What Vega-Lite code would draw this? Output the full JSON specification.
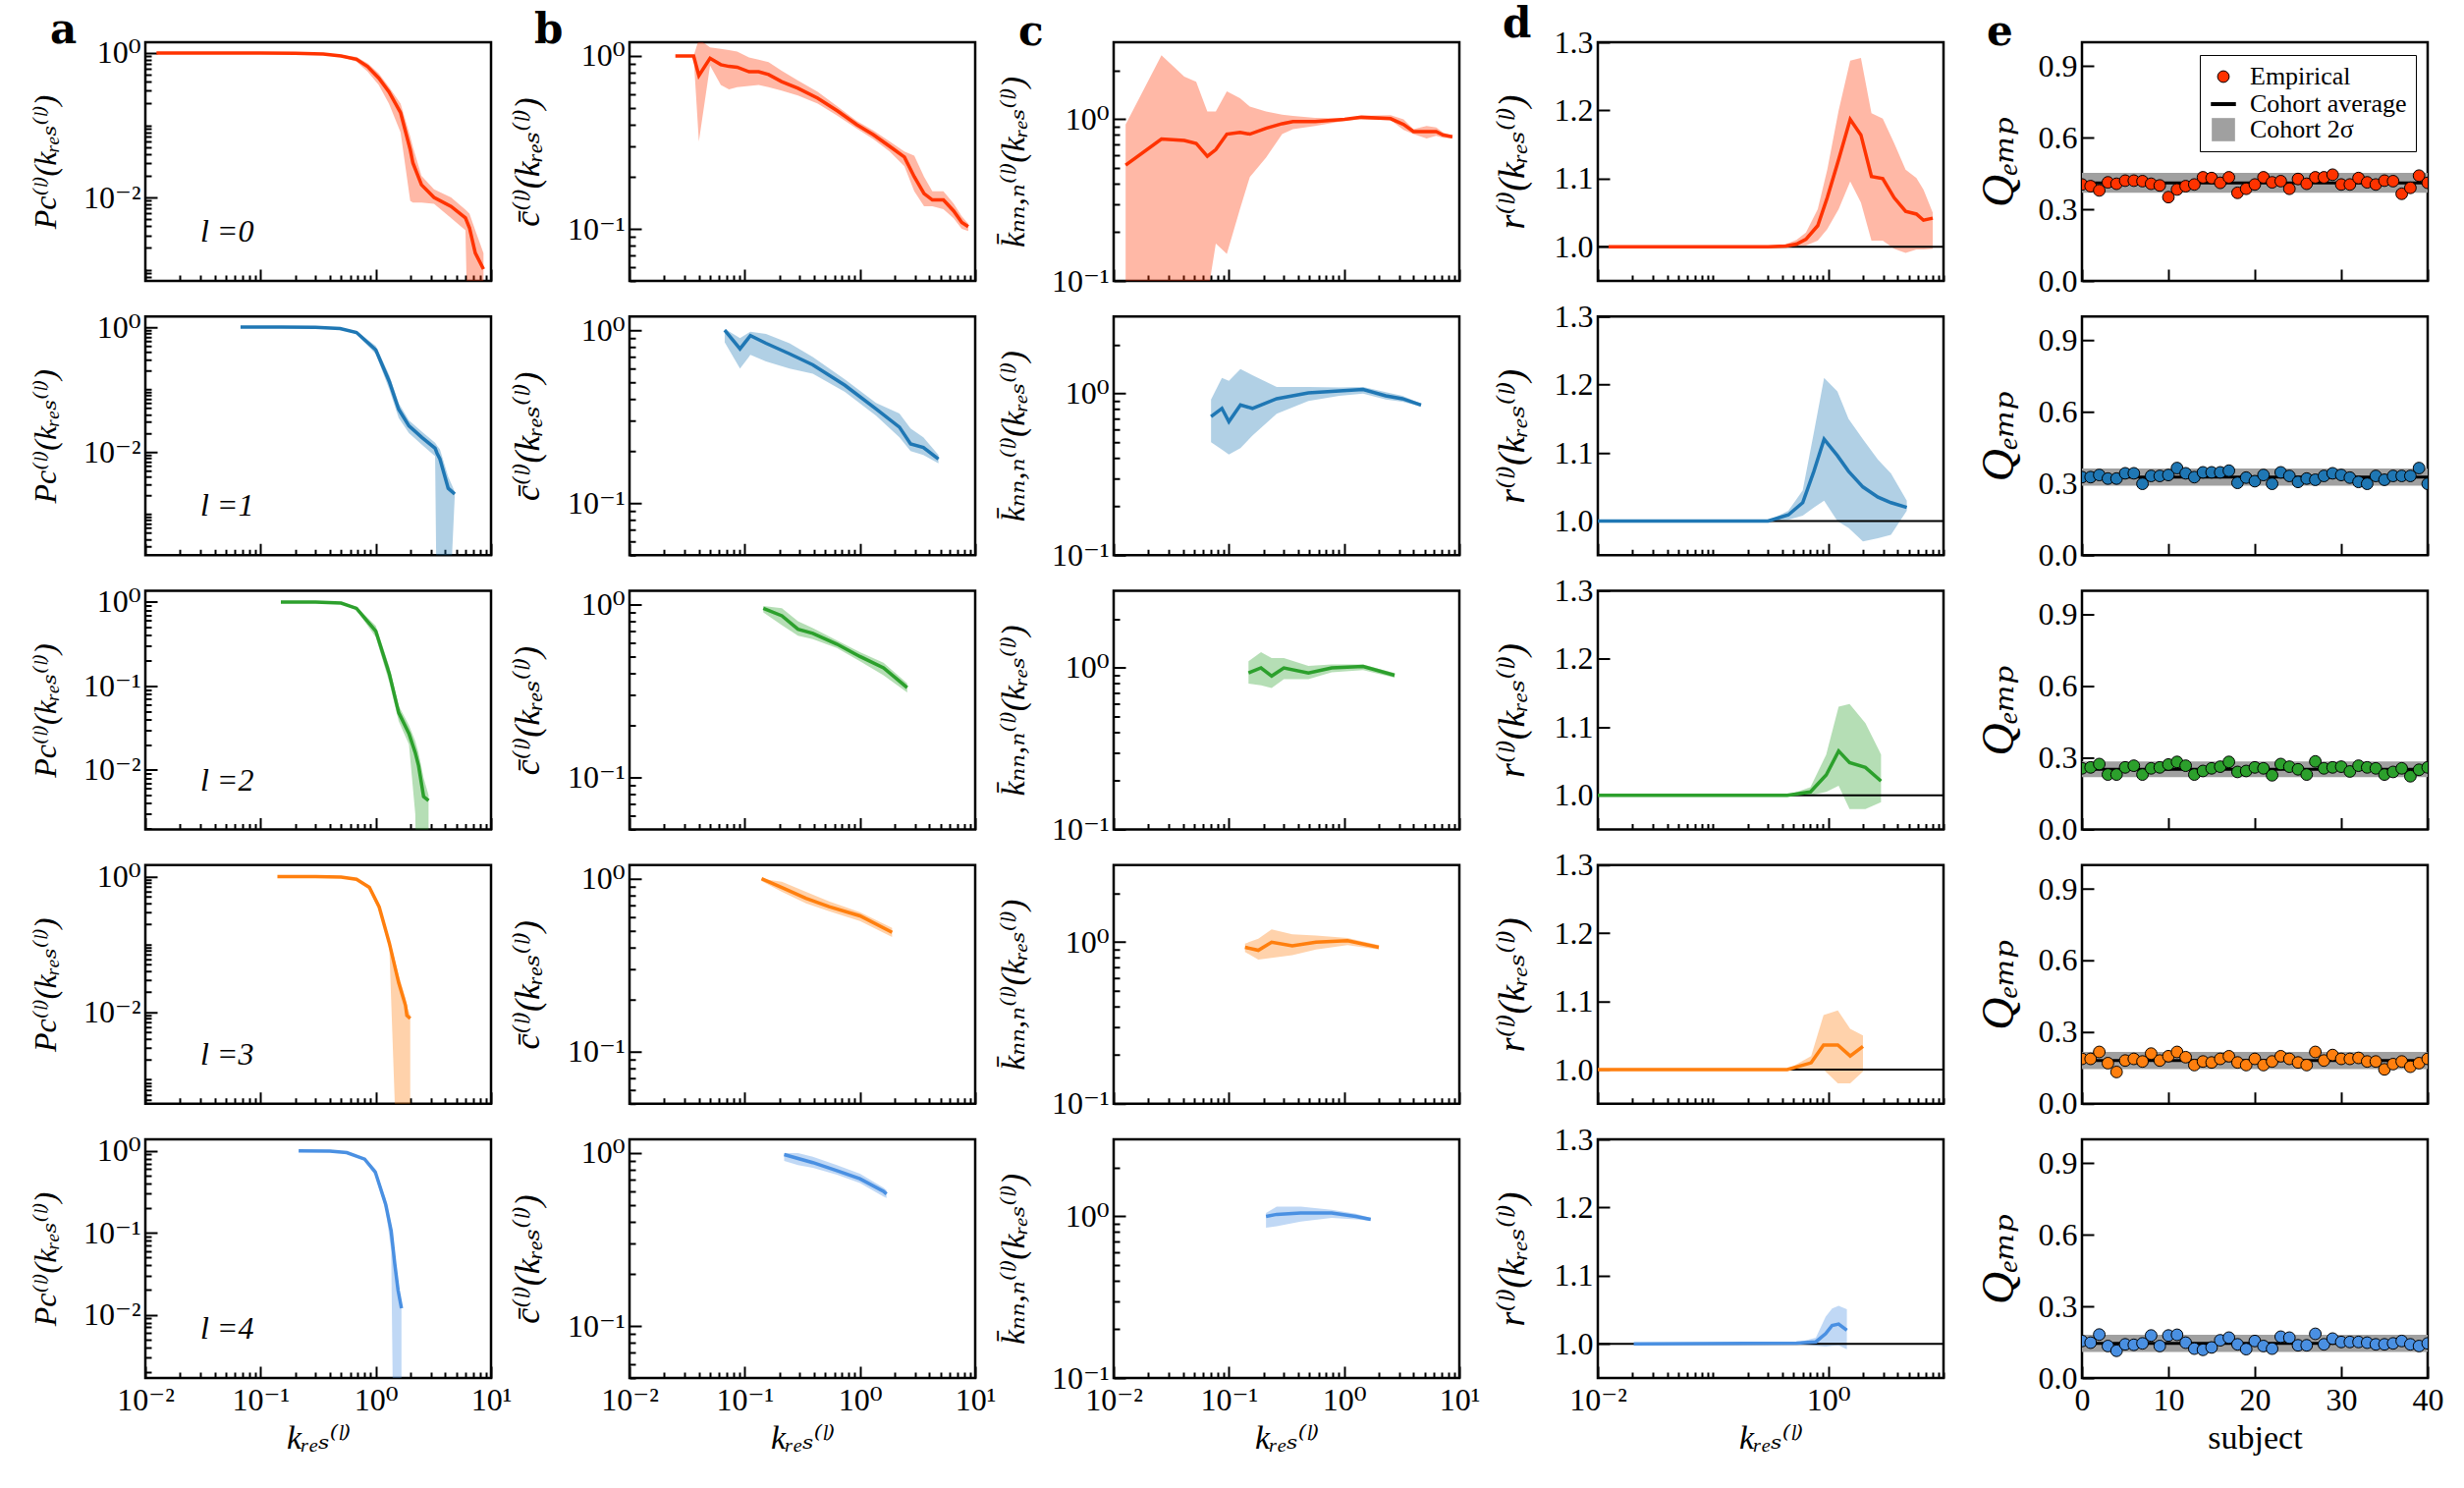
{
"$schema": "https://vega.github.io/schema/vega-lite/v6.json",
"padding": {"left": 28, "top": 2, "right": 5, "bottom": 5},
"background": "white",
"bounds": "flush",
"columns": 5,
"spacing": {"row": 36.25, "column": 141},
"resolve": {"scale": {"color": "independent", "shape": "independent", "size": "independent", "strokeWidth": "independent"}, "legend": {"color": "independent", "shape": "independent", "size": "independent", "strokeWidth": "independent"}},
"config": {
 "font": "Liberation Serif, DejaVu Serif",
 "view": {"continuousWidth": 352, "continuousHeight": 243, "stroke": "black", "strokeWidth": 2.5},
 "axis": {"domain": false, "grid": false, "ticks": true, "tickColor": "black", "tickWidth": 2,
   "labelFont": "Liberation Serif, DejaVu Serif", "labelFontSize": 32, "labelColor": "black",
   "titleFont": "Liberation Serif, DejaVu Serif", "titleFontSize": 34, "titleFontWeight": "normal", "titleFontStyle": "italic", "titleColor": "black",
   "labelFlush": false, "labelOverlap": false, "labelBound": false},
 "axisBottom": {"labelPadding": 19, "titleY": 44, "titleBaseline": "top"},
 "axisLeft": {"labelPadding": 17, "titleY": 121.5, "titleAngle": 270, "titleBaseline": "bottom", "titleAlign": "center"},
 "title": {"fontSize": 42, "font": "DejaVu Serif", "fontWeight": "bold", "anchor": "start", "frame": "group", "dx": -97, "offset": 2, "baseline": "alphabetic", "color": "black"}
},
"datasets": {
"a": [
{"l":0,"k":0.0125,"y":1,"lo":1,"hi":1},{"l":0,"k":0.03,"y":1,"lo":1,"hi":1},{"l":0,"k":0.1,"y":1,"lo":0.998,"hi":1},{"l":0,"k":0.2,"y":0.995,"lo":0.99,"hi":0.998},{"l":0,"k":0.35,"y":0.97,"lo":0.96,"hi":0.98},{"l":0,"k":0.5,"y":0.91,"lo":0.88,"hi":0.94},{"l":0,"k":0.68,"y":0.82,"lo":0.76,"hi":0.88},{"l":0,"k":0.85,"y":0.65,"lo":0.55,"hi":0.72},{"l":0,"k":1.06,"y":0.45,"lo":0.36,"hi":0.52},{"l":0,"k":1.3,"y":0.29,"lo":0.2,"hi":0.34},{"l":0,"k":1.64,"y":0.15,"lo":0.08,"hi":0.2},{"l":0,"k":1.99,"y":0.046,"lo":0.009,"hi":0.07},{"l":0,"k":2.1,"y":0.03,"lo":0.0085,"hi":0.05},{"l":0,"k":2.49,"y":0.015,"lo":0.0085,"hi":0.02},{"l":0,"k":3.2,"y":0.01,"lo":0.0082,"hi":0.013},{"l":0,"k":4.5,"y":0.0075,"lo":0.0052,"hi":0.01},{"l":0,"k":6.0,"y":0.0052,"lo":0.0035,"hi":0.0068},{"l":0,"k":6.5,"y":0.0038,"lo":0.00001,"hi":0.006},{"l":0,"k":7.3,"y":0.0017,"lo":0.00001,"hi":0.0035},{"l":0,"k":8.6,"y":0.00102,"lo":0.00001,"hi":0.0017},
{"l":1,"k":0.067,"y":1,"lo":1,"hi":1},{"l":1,"k":0.15,"y":1,"lo":1,"hi":1},{"l":1,"k":0.3,"y":0.99,"lo":0.985,"hi":0.995},{"l":1,"k":0.49,"y":0.95,"lo":0.93,"hi":0.97},{"l":1,"k":0.68,"y":0.82,"lo":0.77,"hi":0.87},{"l":1,"k":1.0,"y":0.43,"lo":0.37,"hi":0.5},{"l":1,"k":1.31,"y":0.134,"lo":0.1,"hi":0.17},{"l":1,"k":1.58,"y":0.048,"lo":0.035,"hi":0.06},{"l":1,"k":1.94,"y":0.026,"lo":0.02,"hi":0.032},{"l":1,"k":2.51,"y":0.017,"lo":0.013,"hi":0.021},{"l":1,"k":3.27,"y":0.0114,"lo":0.0085,"hi":0.014},{"l":1,"k":3.4,"y":0.0095,"lo":0.00001,"hi":0.0125},{"l":1,"k":3.6,"y":0.0077,"lo":0.00001,"hi":0.011},{"l":1,"k":4.25,"y":0.0026,"lo":0.00001,"hi":0.004},{"l":1,"k":4.84,"y":0.0021,"lo":0.0019,"hi":0.0023},
{"l":2,"k":0.15,"y":1,"lo":1,"hi":1},{"l":2,"k":0.3,"y":1,"lo":0.998,"hi":1},{"l":2,"k":0.5,"y":0.97,"lo":0.95,"hi":0.985},{"l":2,"k":0.68,"y":0.84,"lo":0.8,"hi":0.88},{"l":2,"k":1.0,"y":0.45,"lo":0.38,"hi":0.52},{"l":2,"k":1.31,"y":0.14,"lo":0.11,"hi":0.17},{"l":2,"k":1.58,"y":0.048,"lo":0.038,"hi":0.058},{"l":2,"k":1.94,"y":0.027,"lo":0.02,"hi":0.034},{"l":2,"k":2.2,"y":0.016,"lo":0.003,"hi":0.022},{"l":2,"k":2.35,"y":0.0112,"lo":0.00001,"hi":0.016},{"l":2,"k":2.6,"y":0.0048,"lo":0.00001,"hi":0.008},{"l":2,"k":2.87,"y":0.0043,"lo":0.00001,"hi":0.005},
{"l":3,"k":0.14,"y":1,"lo":1,"hi":1},{"l":3,"k":0.3,"y":1,"lo":0.998,"hi":1},{"l":3,"k":0.5,"y":0.98,"lo":0.97,"hi":0.99},{"l":3,"k":0.68,"y":0.91,"lo":0.88,"hi":0.94},{"l":3,"k":0.88,"y":0.69,"lo":0.64,"hi":0.74},{"l":3,"k":1.07,"y":0.355,"lo":0.32,"hi":0.4},{"l":3,"k":1.31,"y":0.104,"lo":0.09,"hi":0.12},{"l":3,"k":1.58,"y":0.027,"lo":0.00001,"hi":0.035},{"l":3,"k":1.81,"y":0.0125,"lo":0.00001,"hi":0.016},{"l":3,"k":1.86,"y":0.0089,"lo":0.00001,"hi":0.012},{"l":3,"k":1.99,"y":0.008,"lo":0.00001,"hi":0.009},
{"l":4,"k":0.214,"y":1,"lo":1,"hi":1},{"l":4,"k":0.4,"y":0.99,"lo":0.985,"hi":0.995},{"l":4,"k":0.56,"y":0.95,"lo":0.93,"hi":0.96},{"l":4,"k":0.8,"y":0.79,"lo":0.76,"hi":0.82},{"l":4,"k":0.99,"y":0.55,"lo":0.5,"hi":0.6},{"l":4,"k":1.22,"y":0.22,"lo":0.19,"hi":0.26},{"l":4,"k":1.36,"y":0.105,"lo":0.06,"hi":0.12},{"l":4,"k":1.46,"y":0.042,"lo":0.00001,"hi":0.05},{"l":4,"k":1.56,"y":0.02,"lo":0.00001,"hi":0.025},{"l":4,"k":1.67,"y":0.012,"lo":0.00001,"hi":0.013}
],
"b": [
{"l":0,"k":0.025,"y":1,"lo":1,"hi":1},{"l":0,"k":0.036,"y":1,"lo":1,"hi":1},{"l":0,"k":0.04,"y":0.77,"lo":0.32,"hi":1.25},{"l":0,"k":0.05,"y":0.97,"lo":0.88,"hi":1.12},{"l":0,"k":0.062,"y":0.89,"lo":0.68,"hi":1.1},{"l":0,"k":0.073,"y":0.87,"lo":0.64,"hi":1.08},{"l":0,"k":0.086,"y":0.86,"lo":0.66,"hi":1.06},{"l":0,"k":0.109,"y":0.81,"lo":0.67,"hi":0.98},{"l":0,"k":0.132,"y":0.81,"lo":0.68,"hi":0.95},{"l":0,"k":0.161,"y":0.78,"lo":0.66,"hi":0.92},{"l":0,"k":0.209,"y":0.71,"lo":0.63,"hi":0.82},{"l":0,"k":0.29,"y":0.65,"lo":0.59,"hi":0.72},{"l":0,"k":0.43,"y":0.57,"lo":0.53,"hi":0.62},{"l":0,"k":0.64,"y":0.48,"lo":0.45,"hi":0.51},{"l":0,"k":0.94,"y":0.4,"lo":0.38,"hi":0.42},{"l":0,"k":1.31,"y":0.35,"lo":0.33,"hi":0.37},{"l":0,"k":1.81,"y":0.3,"lo":0.28,"hi":0.32},{"l":0,"k":2.43,"y":0.26,"lo":0.23,"hi":0.28},{"l":0,"k":2.96,"y":0.2,"lo":0.165,"hi":0.265},{"l":0,"k":3.6,"y":0.16,"lo":0.135,"hi":0.2},{"l":0,"k":4.25,"y":0.147,"lo":0.135,"hi":0.165},{"l":0,"k":5.3,"y":0.147,"lo":0.13,"hi":0.165},{"l":0,"k":6.5,"y":0.127,"lo":0.115,"hi":0.14},{"l":0,"k":7.65,"y":0.109,"lo":0.1,"hi":0.118},{"l":0,"k":8.7,"y":0.103,"lo":0.097,"hi":0.107},
{"l":1,"k":0.067,"y":1,"lo":0.85,"hi":1.02},{"l":1,"k":0.091,"y":0.78,"lo":0.6,"hi":0.9},{"l":1,"k":0.112,"y":0.93,"lo":0.72,"hi":0.98},{"l":1,"k":0.153,"y":0.84,"lo":0.66,"hi":0.95},{"l":1,"k":0.245,"y":0.73,"lo":0.6,"hi":0.84},{"l":1,"k":0.39,"y":0.63,"lo":0.56,"hi":0.7},{"l":1,"k":0.74,"y":0.48,"lo":0.44,"hi":0.52},{"l":1,"k":1.38,"y":0.35,"lo":0.32,"hi":0.38},{"l":1,"k":2.2,"y":0.275,"lo":0.24,"hi":0.33},{"l":1,"k":2.75,"y":0.22,"lo":0.2,"hi":0.27},{"l":1,"k":3.55,"y":0.21,"lo":0.19,"hi":0.24},{"l":1,"k":4.8,"y":0.18,"lo":0.17,"hi":0.19},
{"l":2,"k":0.145,"y":0.95,"lo":0.9,"hi":0.98},{"l":2,"k":0.21,"y":0.86,"lo":0.76,"hi":0.95},{"l":2,"k":0.29,"y":0.72,"lo":0.66,"hi":0.8},{"l":2,"k":0.39,"y":0.68,"lo":0.63,"hi":0.73},{"l":2,"k":0.63,"y":0.59,"lo":0.56,"hi":0.62},{"l":2,"k":1.0,"y":0.5,"lo":0.47,"hi":0.53},{"l":2,"k":1.6,"y":0.43,"lo":0.39,"hi":0.46},{"l":2,"k":2.57,"y":0.33,"lo":0.31,"hi":0.35},
{"l":3,"k":0.14,"y":1,"lo":0.97,"hi":1},{"l":3,"k":0.21,"y":0.89,"lo":0.84,"hi":0.96},{"l":3,"k":0.34,"y":0.77,"lo":0.72,"hi":0.84},{"l":3,"k":0.54,"y":0.69,"lo":0.65,"hi":0.74},{"l":3,"k":1.0,"y":0.61,"lo":0.57,"hi":0.64},{"l":3,"k":1.9,"y":0.49,"lo":0.46,"hi":0.52},
{"l":4,"k":0.22,"y":0.98,"lo":0.9,"hi":1},{"l":4,"k":0.29,"y":0.93,"lo":0.85,"hi":1},{"l":4,"k":0.39,"y":0.88,"lo":0.82,"hi":0.95},{"l":4,"k":0.63,"y":0.79,"lo":0.75,"hi":0.85},{"l":4,"k":1.0,"y":0.71,"lo":0.67,"hi":0.76},{"l":4,"k":1.6,"y":0.6,"lo":0.56,"hi":0.63},{"l":4,"k":1.7,"y":0.58,"lo":0.55,"hi":0.61}
],
"c": [
{"l":0,"k":0.0127,"y":0.52,"lo":0.01,"hi":0.93},{"l":0,"k":0.026,"y":0.755,"lo":0.01,"hi":2.49},{"l":0,"k":0.041,"y":0.74,"lo":0.01,"hi":1.84},{"l":0,"k":0.052,"y":0.71,"lo":0.01,"hi":1.71},{"l":0,"k":0.065,"y":0.59,"lo":0.08,"hi":1.12},{"l":0,"k":0.077,"y":0.65,"lo":0.17,"hi":1.12},{"l":0,"k":0.096,"y":0.81,"lo":0.147,"hi":1.49},{"l":0,"k":0.125,"y":0.83,"lo":0.28,"hi":1.35},{"l":0,"k":0.152,"y":0.81,"lo":0.44,"hi":1.2},{"l":0,"k":0.21,"y":0.88,"lo":0.58,"hi":1.12},{"l":0,"k":0.29,"y":0.94,"lo":0.81,"hi":1.07},{"l":0,"k":0.36,"y":0.97,"lo":0.87,"hi":1.05},{"l":0,"k":0.56,"y":0.97,"lo":0.91,"hi":1.02},{"l":0,"k":1.01,"y":1,"lo":0.98,"hi":1.01},{"l":0,"k":1.41,"y":1.03,"lo":1.0,"hi":1.05},{"l":0,"k":2.53,"y":1.01,"lo":0.99,"hi":1.06},{"l":0,"k":3.28,"y":0.93,"lo":0.86,"hi":1.0},{"l":0,"k":4.0,"y":0.84,"lo":0.81,"hi":0.87},{"l":0,"k":5.2,"y":0.84,"lo":0.76,"hi":0.91},{"l":0,"k":6.3,"y":0.84,"lo":0.79,"hi":0.89},{"l":0,"k":7.2,"y":0.8,"lo":0.77,"hi":0.83},{"l":0,"k":8.7,"y":0.78,"lo":0.76,"hi":0.79},
{"l":1,"k":0.07,"y":0.72,"lo":0.5,"hi":0.92},{"l":1,"k":0.087,"y":0.81,"lo":0.45,"hi":1.25},{"l":1,"k":0.1,"y":0.67,"lo":0.42,"hi":1.2},{"l":1,"k":0.126,"y":0.85,"lo":0.46,"hi":1.42},{"l":1,"k":0.16,"y":0.81,"lo":0.55,"hi":1.3},{"l":1,"k":0.26,"y":0.93,"lo":0.75,"hi":1.1},{"l":1,"k":0.49,"y":1.01,"lo":0.9,"hi":1.1},{"l":1,"k":0.91,"y":1.04,"lo":0.97,"hi":1.09},{"l":1,"k":1.46,"y":1.06,"lo":1.0,"hi":1.1},{"l":1,"k":2.3,"y":0.97,"lo":0.92,"hi":1.02},{"l":1,"k":3.2,"y":0.93,"lo":0.89,"hi":0.97},{"l":1,"k":4.65,"y":0.85,"lo":0.83,"hi":0.87},
{"l":2,"k":0.148,"y":0.93,"lo":0.8,"hi":1.1},{"l":2,"k":0.19,"y":1,"lo":0.78,"hi":1.25},{"l":2,"k":0.235,"y":0.89,"lo":0.75,"hi":1.15},{"l":2,"k":0.3,"y":1,"lo":0.85,"hi":1.15},{"l":2,"k":0.49,"y":0.93,"lo":0.85,"hi":1.03},{"l":2,"k":0.78,"y":1,"lo":0.94,"hi":1.05},{"l":2,"k":1.46,"y":1.02,"lo":0.97,"hi":1.05},{"l":2,"k":2.74,"y":0.9,"lo":0.87,"hi":0.93},
{"l":3,"k":0.138,"y":0.93,"lo":0.87,"hi":0.98},{"l":3,"k":0.18,"y":0.89,"lo":0.78,"hi":1.05},{"l":3,"k":0.235,"y":1,"lo":0.8,"hi":1.2},{"l":3,"k":0.355,"y":0.95,"lo":0.83,"hi":1.12},{"l":3,"k":0.57,"y":1,"lo":0.9,"hi":1.1},{"l":3,"k":1.07,"y":1.02,"lo":0.96,"hi":1.06},{"l":3,"k":2.0,"y":0.93,"lo":0.9,"hi":0.96},
{"l":4,"k":0.21,"y":1,"lo":0.85,"hi":1.05},{"l":4,"k":0.26,"y":1.03,"lo":0.87,"hi":1.15},{"l":4,"k":0.42,"y":1.05,"lo":0.93,"hi":1.15},{"l":4,"k":0.78,"y":1.05,"lo":0.98,"hi":1.1},{"l":4,"k":1.26,"y":1,"lo":0.96,"hi":1.04},{"l":4,"k":1.7,"y":0.96,"lo":0.94,"hi":0.98}
],
"d": [
{"l":0,"k":0.0124,"y":1,"lo":1,"hi":1},{"l":0,"k":0.1,"y":1,"lo":1,"hi":1},{"l":0,"k":0.3,"y":1,"lo":1,"hi":1},{"l":0,"k":0.43,"y":1.001,"lo":1,"hi":1.004},{"l":0,"k":0.53,"y":1.004,"lo":1.001,"hi":1.01},{"l":0,"k":0.64,"y":1.011,"lo":1.002,"hi":1.021},{"l":0,"k":0.81,"y":1.031,"lo":1.009,"hi":1.055},{"l":0,"k":0.98,"y":1.072,"lo":1.026,"hi":1.113},{"l":0,"k":1.23,"y":1.128,"lo":1.055,"hi":1.2},{"l":0,"k":1.55,"y":1.187,"lo":1.096,"hi":1.273},{"l":0,"k":1.92,"y":1.164,"lo":1.065,"hi":1.277},{"l":0,"k":2.37,"y":1.103,"lo":1.009,"hi":1.196},{"l":0,"k":2.97,"y":1.1,"lo":1.009,"hi":1.188},{"l":0,"k":3.73,"y":1.072,"lo":0.997,"hi":1.152},{"l":0,"k":4.69,"y":1.052,"lo":0.991,"hi":1.113},{"l":0,"k":5.82,"y":1.048,"lo":0.996,"hi":1.101},{"l":0,"k":6.7,"y":1.039,"lo":0.996,"hi":1.084},{"l":0,"k":8.07,"y":1.042,"lo":0.997,"hi":1.05},
{"l":1,"k":0.01,"y":1,"lo":1,"hi":1},{"l":1,"k":0.3,"y":1,"lo":1,"hi":1},{"l":1,"k":0.45,"y":1.009,"lo":1.002,"hi":1.015},{"l":1,"k":0.6,"y":1.027,"lo":1.008,"hi":1.045},{"l":1,"k":0.75,"y":1.073,"lo":1.02,"hi":1.13},{"l":1,"k":0.92,"y":1.12,"lo":1.03,"hi":1.21},{"l":1,"k":1.2,"y":1.096,"lo":1.0,"hi":1.19},{"l":1,"k":1.5,"y":1.073,"lo":0.99,"hi":1.15},{"l":1,"k":2.0,"y":1.05,"lo":0.97,"hi":1.12},{"l":1,"k":2.7,"y":1.035,"lo":0.975,"hi":1.09},{"l":1,"k":3.5,"y":1.027,"lo":0.98,"hi":1.07},{"l":1,"k":4.8,"y":1.02,"lo":1.015,"hi":1.03},
{"l":2,"k":0.01,"y":1,"lo":1,"hi":1},{"l":2,"k":0.44,"y":1,"lo":1,"hi":1},{"l":2,"k":0.7,"y":1.005,"lo":1.0,"hi":1.012},{"l":2,"k":0.96,"y":1.03,"lo":1.005,"hi":1.06},{"l":2,"k":1.23,"y":1.065,"lo":1.014,"hi":1.13},{"l":2,"k":1.53,"y":1.048,"lo":0.98,"hi":1.134},{"l":2,"k":2.1,"y":1.041,"lo":0.98,"hi":1.106},{"l":2,"k":2.87,"y":1.021,"lo":0.99,"hi":1.06},
{"l":3,"k":0.01,"y":1,"lo":1,"hi":1},{"l":3,"k":0.44,"y":1,"lo":1,"hi":1},{"l":3,"k":0.71,"y":1.01,"lo":1.0,"hi":1.02},{"l":3,"k":0.91,"y":1.036,"lo":1.0,"hi":1.08},{"l":3,"k":1.21,"y":1.036,"lo":0.98,"hi":1.087},{"l":3,"k":1.55,"y":1.02,"lo":0.98,"hi":1.06},{"l":3,"k":2.0,"y":1.034,"lo":0.997,"hi":1.05},
{"l":4,"k":0.0205,"y":1,"lo":1,"hi":1},{"l":4,"k":0.53,"y":1.001,"lo":1.0,"hi":1.002},{"l":4,"k":0.78,"y":1.003,"lo":0.997,"hi":1.009},{"l":4,"k":0.95,"y":1.015,"lo":0.996,"hi":1.04},{"l":4,"k":1.08,"y":1.027,"lo":0.997,"hi":1.052},{"l":4,"k":1.23,"y":1.029,"lo":0.998,"hi":1.056},{"l":4,"k":1.45,"y":1.02,"lo":0.992,"hi":1.051}
],
"es": [
{"l":0,"mean":0.411,"lo":0.369,"hi":0.453},{"l":1,"mean":0.327,"lo":0.291,"hi":0.363},{"l":2,"mean":0.252,"lo":0.219,"hi":0.285},{"l":3,"mean":0.181,"lo":0.145,"hi":0.217},{"l":4,"mean":0.145,"lo":0.109,"hi":0.181}
],
"e": [
{"l":0,"s":0,"q":0.404},{"l":0,"s":1,"q":0.397},{"l":0,"s":2,"q":0.379},{"l":0,"s":3,"q":0.413},{"l":0,"s":4,"q":0.407},{"l":0,"s":5,"q":0.42},{"l":0,"s":6,"q":0.42},{"l":0,"s":7,"q":0.418},{"l":0,"s":8,"q":0.407},{"l":0,"s":9,"q":0.4},{"l":0,"s":10,"q":0.351},{"l":0,"s":11,"q":0.383},{"l":0,"s":12,"q":0.397},{"l":0,"s":13,"q":0.404},{"l":0,"s":14,"q":0.434},{"l":0,"s":15,"q":0.431},{"l":0,"s":16,"q":0.411},{"l":0,"s":17,"q":0.434},{"l":0,"s":18,"q":0.369},{"l":0,"s":19,"q":0.386},{"l":0,"s":20,"q":0.404},{"l":0,"s":21,"q":0.434},{"l":0,"s":22,"q":0.413},{"l":0,"s":23,"q":0.418},{"l":0,"s":24,"q":0.386},{"l":0,"s":25,"q":0.427},{"l":0,"s":26,"q":0.407},{"l":0,"s":27,"q":0.434},{"l":0,"s":28,"q":0.434},{"l":0,"s":29,"q":0.445},{"l":0,"s":30,"q":0.404},{"l":0,"s":31,"q":0.404},{"l":0,"s":32,"q":0.431},{"l":0,"s":33,"q":0.413},{"l":0,"s":34,"q":0.404},{"l":0,"s":35,"q":0.42},{"l":0,"s":36,"q":0.418},{"l":0,"s":37,"q":0.365},{"l":0,"s":38,"q":0.39},{"l":0,"s":39,"q":0.441},{"l":0,"s":40,"q":0.411},
{"l":1,"s":0,"q":0.327},{"l":1,"s":1,"q":0.327},{"l":1,"s":2,"q":0.336},{"l":1,"s":3,"q":0.321},{"l":1,"s":4,"q":0.321},{"l":1,"s":5,"q":0.343},{"l":1,"s":6,"q":0.343},{"l":1,"s":7,"q":0.299},{"l":1,"s":8,"q":0.332},{"l":1,"s":9,"q":0.332},{"l":1,"s":10,"q":0.336},{"l":1,"s":11,"q":0.365},{"l":1,"s":12,"q":0.343},{"l":1,"s":13,"q":0.327},{"l":1,"s":14,"q":0.347},{"l":1,"s":15,"q":0.347},{"l":1,"s":16,"q":0.347},{"l":1,"s":17,"q":0.354},{"l":1,"s":18,"q":0.303},{"l":1,"s":19,"q":0.325},{"l":1,"s":20,"q":0.31},{"l":1,"s":21,"q":0.336},{"l":1,"s":22,"q":0.299},{"l":1,"s":23,"q":0.347},{"l":1,"s":24,"q":0.332},{"l":1,"s":25,"q":0.307},{"l":1,"s":26,"q":0.321},{"l":1,"s":27,"q":0.316},{"l":1,"s":28,"q":0.332},{"l":1,"s":29,"q":0.343},{"l":1,"s":30,"q":0.336},{"l":1,"s":31,"q":0.325},{"l":1,"s":32,"q":0.307},{"l":1,"s":33,"q":0.299},{"l":1,"s":34,"q":0.332},{"l":1,"s":35,"q":0.316},{"l":1,"s":36,"q":0.332},{"l":1,"s":37,"q":0.332},{"l":1,"s":38,"q":0.332},{"l":1,"s":39,"q":0.365},{"l":1,"s":40,"q":0.299},
{"l":2,"s":0,"q":0.256},{"l":2,"s":1,"q":0.26},{"l":2,"s":2,"q":0.274},{"l":2,"s":3,"q":0.23},{"l":2,"s":4,"q":0.23},{"l":2,"s":5,"q":0.26},{"l":2,"s":6,"q":0.267},{"l":2,"s":7,"q":0.23},{"l":2,"s":8,"q":0.256},{"l":2,"s":9,"q":0.26},{"l":2,"s":10,"q":0.272},{"l":2,"s":11,"q":0.283},{"l":2,"s":12,"q":0.267},{"l":2,"s":13,"q":0.23},{"l":2,"s":14,"q":0.245},{"l":2,"s":15,"q":0.256},{"l":2,"s":16,"q":0.263},{"l":2,"s":17,"q":0.283},{"l":2,"s":18,"q":0.241},{"l":2,"s":19,"q":0.245},{"l":2,"s":20,"q":0.26},{"l":2,"s":21,"q":0.256},{"l":2,"s":22,"q":0.227},{"l":2,"s":23,"q":0.274},{"l":2,"s":24,"q":0.263},{"l":2,"s":25,"q":0.252},{"l":2,"s":26,"q":0.23},{"l":2,"s":27,"q":0.285},{"l":2,"s":28,"q":0.256},{"l":2,"s":29,"q":0.26},{"l":2,"s":30,"q":0.263},{"l":2,"s":31,"q":0.243},{"l":2,"s":32,"q":0.267},{"l":2,"s":33,"q":0.26},{"l":2,"s":34,"q":0.256},{"l":2,"s":35,"q":0.23},{"l":2,"s":36,"q":0.241},{"l":2,"s":37,"q":0.256},{"l":2,"s":38,"q":0.223},{"l":2,"s":39,"q":0.25},{"l":2,"s":40,"q":0.26},
{"l":3,"s":0,"q":0.188},{"l":3,"s":1,"q":0.188},{"l":3,"s":2,"q":0.217},{"l":3,"s":3,"q":0.17},{"l":3,"s":4,"q":0.133},{"l":3,"s":5,"q":0.181},{"l":3,"s":6,"q":0.188},{"l":3,"s":7,"q":0.177},{"l":3,"s":8,"q":0.21},{"l":3,"s":9,"q":0.181},{"l":3,"s":10,"q":0.199},{"l":3,"s":11,"q":0.217},{"l":3,"s":12,"q":0.195},{"l":3,"s":13,"q":0.162},{"l":3,"s":14,"q":0.177},{"l":3,"s":15,"q":0.173},{"l":3,"s":16,"q":0.188},{"l":3,"s":17,"q":0.199},{"l":3,"s":18,"q":0.173},{"l":3,"s":19,"q":0.162},{"l":3,"s":20,"q":0.188},{"l":3,"s":21,"q":0.162},{"l":3,"s":22,"q":0.177},{"l":3,"s":23,"q":0.199},{"l":3,"s":24,"q":0.188},{"l":3,"s":25,"q":0.173},{"l":3,"s":26,"q":0.162},{"l":3,"s":27,"q":0.217},{"l":3,"s":28,"q":0.181},{"l":3,"s":29,"q":0.204},{"l":3,"s":30,"q":0.188},{"l":3,"s":31,"q":0.188},{"l":3,"s":32,"q":0.192},{"l":3,"s":33,"q":0.177},{"l":3,"s":34,"q":0.177},{"l":3,"s":35,"q":0.144},{"l":3,"s":36,"q":0.166},{"l":3,"s":37,"q":0.177},{"l":3,"s":38,"q":0.155},{"l":3,"s":39,"q":0.17},{"l":3,"s":40,"q":0.188},
{"l":4,"s":0,"q":0.155},{"l":4,"s":1,"q":0.148},{"l":4,"s":2,"q":0.182},{"l":4,"s":3,"q":0.134},{"l":4,"s":4,"q":0.114},{"l":4,"s":5,"q":0.141},{"l":4,"s":6,"q":0.139},{"l":4,"s":7,"q":0.145},{"l":4,"s":8,"q":0.178},{"l":4,"s":9,"q":0.134},{"l":4,"s":10,"q":0.178},{"l":4,"s":11,"q":0.181},{"l":4,"s":12,"q":0.148},{"l":4,"s":13,"q":0.123},{"l":4,"s":14,"q":0.118},{"l":4,"s":15,"q":0.128},{"l":4,"s":16,"q":0.158},{"l":4,"s":17,"q":0.169},{"l":4,"s":18,"q":0.141},{"l":4,"s":19,"q":0.121},{"l":4,"s":20,"q":0.155},{"l":4,"s":21,"q":0.134},{"l":4,"s":22,"q":0.123},{"l":4,"s":23,"q":0.173},{"l":4,"s":24,"q":0.169},{"l":4,"s":25,"q":0.137},{"l":4,"s":26,"q":0.137},{"l":4,"s":27,"q":0.185},{"l":4,"s":28,"q":0.141},{"l":4,"s":29,"q":0.165},{"l":4,"s":30,"q":0.151},{"l":4,"s":31,"q":0.151},{"l":4,"s":32,"q":0.151},{"l":4,"s":33,"q":0.148},{"l":4,"s":34,"q":0.141},{"l":4,"s":35,"q":0.141},{"l":4,"s":36,"q":0.145},{"l":4,"s":37,"q":0.155},{"l":4,"s":38,"q":0.141},{"l":4,"s":39,"q":0.134},{"l":4,"s":40,"q":0.145}
]
},
"concat": [
{"title": {"text": "a", "dy": 17}, "layer": [
 {"data": {"name": "a"}, "transform": [{"filter": "datum.l==0"}], "mark": {"type": "area", "color": "#ff3300", "opacity": 0.35, "clip": true},
  "encoding": {"x": {"field": "k", "type": "quantitative", "scale": {"type": "log", "domain": [0.01, 10], "nice": false}, "axis": {"values": [0.01,0.02,0.03,0.04,0.05,0.06,0.07,0.08,0.09,0.1,0.2,0.3,0.4,0.5,0.6,0.7,0.8,0.9,1,2,3,4,5,6,7,8,9,10], "title": null, "labels": false, "tickSize": {"condition": {"test": "indexof([0.01,0.1,1,10],datum.value)>=0", "value": -12}, "value": -6}}},
   "y": {"field": "lo", "type": "quantitative", "scale": {"type": "log", "domain": [0.0007, 1.41], "nice": false}, "axis": {"values": [0.0008,0.0009,0.001,0.002,0.003,0.004,0.005,0.006,0.007,0.008,0.009,0.01,0.02,0.03,0.04,0.05,0.06,0.07,0.08,0.09,0.1,0.2,0.3,0.4,0.5,0.6,0.7,0.8,0.9,1], "title": "Pc⁽ˡ⁾(kᵣₑₛ⁽ˡ⁾)", "titleX": -85, "titleFontSize": 32, "labelExpr": "datum.value==1?'10⁰':datum.value==0.01?'10⁻²':''", "tickSize": {"condition": {"test": "indexof([0.01,1],datum.value)>=0", "value": -12}, "value": -6}}},
   "y2": {"field": "hi"}}},
 {"data": {"name": "a"}, "transform": [{"filter": "datum.l==0"}], "mark": {"type": "line", "color": "#ff3300", "strokeWidth": 3.5, "clip": true},
  "encoding": {"x": {"field": "k", "type": "quantitative", "scale": {"type": "log", "domain": [0.01, 10], "nice": false}},
   "y": {"field": "y", "type": "quantitative", "scale": {"type": "log", "domain": [0.0007, 1.41], "nice": false}}}},
 {"data": {"values": [{"t": "l =0"}]}, "mark": {"type": "text", "align": "left", "baseline": "middle", "fontSize": 32, "fontStyle": "italic", "color": "black"},
  "encoding": {"x": {"datum": 0.03, "type": "quantitative", "scale": {"type": "log", "domain": [0.01, 10], "nice": false}},
   "y": {"datum": 0.00335, "type": "quantitative", "scale": {"type": "log", "domain": [0.0007, 1.41], "nice": false}}, "text": {"field": "t"}}}
]},
{"title": {"text": "b", "dy": 14}, "layer": [
 {"data": {"name": "b"}, "transform": [{"filter": "datum.l==0"}], "mark": {"type": "area", "color": "#ff3300", "opacity": 0.35, "clip": true},
  "encoding": {"x": {"field": "k", "type": "quantitative", "scale": {"type": "log", "domain": [0.01, 10], "nice": false}, "axis": {"values": [0.01,0.02,0.03,0.04,0.05,0.06,0.07,0.08,0.09,0.1,0.2,0.3,0.4,0.5,0.6,0.7,0.8,0.9,1,2,3,4,5,6,7,8,9,10], "title": null, "labels": false, "tickSize": {"condition": {"test": "indexof([0.01,0.1,1,10],datum.value)>=0", "value": -12}, "value": -6}}},
   "y": {"field": "lo", "type": "quantitative", "scale": {"type": "log", "domain": [0.05, 1.2], "nice": false}, "axis": {"values": [0.05,0.06,0.07,0.08,0.09,0.1,0.2,0.3,0.4,0.5,0.6,0.7,0.8,0.9,1], "title": "c̄⁽ˡ⁾(kᵣₑₛ⁽ˡ⁾)", "titleX": -85, "titleFontSize": 36, "labelExpr": "datum.value==1?'10⁰':datum.value==0.1?'10⁻¹':''", "tickSize": {"condition": {"test": "indexof([0.1,1],datum.value)>=0", "value": -12}, "value": -6}}},
   "y2": {"field": "hi"}}},
 {"data": {"name": "b"}, "transform": [{"filter": "datum.l==0"}], "mark": {"type": "line", "color": "#ff3300", "strokeWidth": 3.5, "clip": true},
  "encoding": {"x": {"field": "k", "type": "quantitative", "scale": {"type": "log", "domain": [0.01, 10], "nice": false}},
   "y": {"field": "y", "type": "quantitative", "scale": {"type": "log", "domain": [0.05, 1.2], "nice": false}}}}
]},
{"title": {"text": "c", "dy": 14}, "layer": [
 {"data": {"name": "c"}, "transform": [{"filter": "datum.l==0"}], "mark": {"type": "area", "color": "#ff3300", "opacity": 0.35, "clip": true},
  "encoding": {"x": {"field": "k", "type": "quantitative", "scale": {"type": "log", "domain": [0.01, 10], "nice": false}, "axis": {"values": [0.01,0.02,0.03,0.04,0.05,0.06,0.07,0.08,0.09,0.1,0.2,0.3,0.4,0.5,0.6,0.7,0.8,0.9,1,2,3,4,5,6,7,8,9,10], "title": null, "labels": false, "tickSize": {"condition": {"test": "indexof([0.01,0.1,1,10],datum.value)>=0", "value": -12}, "value": -6}}},
   "y": {"field": "lo", "type": "quantitative", "scale": {"type": "log", "domain": [0.1, 3], "nice": false}, "axis": {"values": [0.1,0.2,0.3,0.4,0.5,0.6,0.7,0.8,0.9,1,2], "title": "k̄ₙₙ,ₙ⁽ˡ⁾(kᵣₑₛ⁽ˡ⁾)", "titleX": -85, "titleFontSize": 34, "labelExpr": "datum.value==1?'10⁰':datum.value==0.1?'10⁻¹':''", "tickSize": {"condition": {"test": "indexof([0.1,1],datum.value)>=0", "value": -12}, "value": -6}}},
   "y2": {"field": "hi"}}},
 {"data": {"name": "c"}, "transform": [{"filter": "datum.l==0"}], "mark": {"type": "line", "color": "#ff3300", "strokeWidth": 3.5, "clip": true},
  "encoding": {"x": {"field": "k", "type": "quantitative", "scale": {"type": "log", "domain": [0.01, 10], "nice": false}},
   "y": {"field": "y", "type": "quantitative", "scale": {"type": "log", "domain": [0.1, 3], "nice": false}}}}
]},
{"title": {"text": "d", "dy": 22}, "layer": [
 {"data": {"name": "d"}, "transform": [{"filter": "datum.l==0"}], "mark": {"type": "area", "color": "#ff3300", "opacity": 0.35, "clip": true},
  "encoding": {"x": {"field": "k", "type": "quantitative", "scale": {"type": "log", "domain": [0.01, 10], "nice": false}, "axis": {"values": [0.01,0.02,0.03,0.04,0.05,0.06,0.07,0.08,0.09,0.1,0.2,0.3,0.4,0.5,0.6,0.7,0.8,0.9,1,2,3,4,5,6,7,8,9,10], "title": null, "labels": false, "tickSize": {"condition": {"test": "indexof([0.01,1],datum.value)>=0", "value": -12}, "value": -6}}},
   "y": {"field": "lo", "type": "quantitative", "scale": {"domain": [0.95, 1.3], "nice": false, "zero": false}, "axis": {"values": [1.0,1.1,1.2,1.3], "format": ".1f", "title": "r⁽ˡ⁾(kᵣₑₛ⁽ˡ⁾)", "titleX": -68, "titleFontSize": 38, "tickSize": -12}},
   "y2": {"field": "hi"}}},
 {"data": {"values": [{"ref": 1}]}, "mark": {"type": "rule", "color": "black", "strokeWidth": 2},
  "encoding": {"y": {"field": "ref", "type": "quantitative", "scale": {"domain": [0.95, 1.3], "nice": false, "zero": false}}}},
 {"data": {"name": "d"}, "transform": [{"filter": "datum.l==0"}], "mark": {"type": "line", "color": "#ff3300", "strokeWidth": 3.5, "clip": true},
  "encoding": {"x": {"field": "k", "type": "quantitative", "scale": {"type": "log", "domain": [0.01, 10], "nice": false}},
   "y": {"field": "y", "type": "quantitative", "scale": {"domain": [0.95, 1.3], "nice": false, "zero": false}}}}
]},
{"title": {"text": "e", "dy": 14}, "layer": [
 {"data": {"name": "es"}, "transform": [{"filter": "datum.l==0"}], "mark": {"type": "rect", "color": "#a0a0a0"},
  "encoding": {"x": {"datum": 0, "type": "quantitative", "scale": {"domain": [0, 40], "nice": false, "zero": false}}, "x2": {"datum": 40},
   "y": {"field": "lo", "type": "quantitative", "scale": {"domain": [0, 1], "nice": false}}, "y2": {"field": "hi"}}},
 {"data": {"name": "es"}, "transform": [{"filter": "datum.l==0"}], "mark": {"type": "rule", "color": "black", "strokeWidth": 3},
  "encoding": {"y": {"field": "mean", "type": "quantitative", "scale": {"domain": [0, 1], "nice": false}}}},
 {"data": {"name": "e"}, "transform": [{"filter": "datum.l==0"}], "mark": {"type": "point", "filled": true, "stroke": "black", "opacity": 1, "clip": true},
  "encoding": {"x": {"field": "s", "type": "quantitative", "scale": {"domain": [0, 40], "nice": false, "zero": false}, "axis": {"values": [0,10,20,30,40], "title": null, "labels": false, "tickSize": -12}},
   "y": {"field": "q", "type": "quantitative", "scale": {"domain": [0, 1], "nice": false}, "axis": {"values": [0,0.3,0.6,0.9], "format": ".1f", "title": "Qₑₘₚ", "titleX": -61, "titleFontSize": 46, "tickSize": -12}},
   "color": {"datum": "Empirical", "type": "nominal", "scale": {"domain": ["Empirical", "Cohort average", "Cohort 2σ"], "range": ["#ff3300", "black", "#a0a0a0"]},
    "legend": {"title": null, "orient": "none", "legendX": 120, "legendY": 13, "strokeColor": "black", "fillColor": "white", "padding": 9, "cornerRadius": 0,
     "labelFont": "Liberation Serif", "labelFontSize": 26, "labelColor": "black", "labelLimit": 0, "rowPadding": 0, "labelOffset": 12,
     "values": ["Empirical", "Cohort average", "Cohort 2σ"]}},
   "shape": {"datum": "Empirical", "type": "nominal", "scale": {"domain": ["Empirical", "Cohort average", "Cohort 2σ"], "range": ["circle", "stroke", "square"]}},
   "size": {"datum": "Empirical", "type": "ordinal", "scale": {"type": "ordinal", "domain": ["Empirical", "Cohort average", "Cohort 2σ"], "range": [140, 650, 560]}},
   "strokeWidth": {"datum": "Empirical", "type": "ordinal", "scale": {"type": "ordinal", "domain": ["Empirical", "Cohort average", "Cohort 2σ"], "range": [1, 4, 0]}}}}
]},

{"layer": [
 {"data": {"name": "a"}, "transform": [{"filter": "datum.l==1"}], "mark": {"type": "area", "color": "#1f77b4", "opacity": 0.35, "clip": true},
  "encoding": {"x": {"field": "k", "type": "quantitative", "scale": {"type": "log", "domain": [0.01, 10], "nice": false}, "axis": {"values": [0.01,0.02,0.03,0.04,0.05,0.06,0.07,0.08,0.09,0.1,0.2,0.3,0.4,0.5,0.6,0.7,0.8,0.9,1,2,3,4,5,6,7,8,9,10], "title": null, "labels": false, "tickSize": {"condition": {"test": "indexof([0.01,0.1,1,10],datum.value)>=0", "value": -12}, "value": -6}}},
   "y": {"field": "lo", "type": "quantitative", "scale": {"type": "log", "domain": [0.00022, 1.48], "nice": false}, "axis": {"values": [0.0003,0.0004,0.0005,0.0006,0.0007,0.0008,0.0009,0.001,0.002,0.003,0.004,0.005,0.006,0.007,0.008,0.009,0.01,0.02,0.03,0.04,0.05,0.06,0.07,0.08,0.09,0.1,0.2,0.3,0.4,0.5,0.6,0.7,0.8,0.9,1], "title": "Pc⁽ˡ⁾(kᵣₑₛ⁽ˡ⁾)", "titleX": -85, "titleFontSize": 32, "labelExpr": "datum.value==1?'10⁰':datum.value==0.01?'10⁻²':''", "tickSize": {"condition": {"test": "indexof([0.01,1],datum.value)>=0", "value": -12}, "value": -6}}},
   "y2": {"field": "hi"}}},
 {"data": {"name": "a"}, "transform": [{"filter": "datum.l==1"}], "mark": {"type": "line", "color": "#1f77b4", "strokeWidth": 3.5, "clip": true},
  "encoding": {"x": {"field": "k", "type": "quantitative", "scale": {"type": "log", "domain": [0.01, 10], "nice": false}},
   "y": {"field": "y", "type": "quantitative", "scale": {"type": "log", "domain": [0.00022, 1.48], "nice": false}}}},
 {"data": {"values": [{"t": "l =1"}]}, "mark": {"type": "text", "align": "left", "baseline": "middle", "fontSize": 32, "fontStyle": "italic", "color": "black"},
  "encoding": {"x": {"datum": 0.03, "type": "quantitative", "scale": {"type": "log", "domain": [0.01, 10], "nice": false}},
   "y": {"datum": 0.00135, "type": "quantitative", "scale": {"type": "log", "domain": [0.00022, 1.48], "nice": false}}, "text": {"field": "t"}}}
]},
{"layer": [
 {"data": {"name": "b"}, "transform": [{"filter": "datum.l==1"}], "mark": {"type": "area", "color": "#1f77b4", "opacity": 0.35, "clip": true},
  "encoding": {"x": {"field": "k", "type": "quantitative", "scale": {"type": "log", "domain": [0.01, 10], "nice": false}, "axis": {"values": [0.01,0.02,0.03,0.04,0.05,0.06,0.07,0.08,0.09,0.1,0.2,0.3,0.4,0.5,0.6,0.7,0.8,0.9,1,2,3,4,5,6,7,8,9,10], "title": null, "labels": false, "tickSize": {"condition": {"test": "indexof([0.01,0.1,1,10],datum.value)>=0", "value": -12}, "value": -6}}},
   "y": {"field": "lo", "type": "quantitative", "scale": {"type": "log", "domain": [0.05, 1.2], "nice": false}, "axis": {"values": [0.05,0.06,0.07,0.08,0.09,0.1,0.2,0.3,0.4,0.5,0.6,0.7,0.8,0.9,1], "title": "c̄⁽ˡ⁾(kᵣₑₛ⁽ˡ⁾)", "titleX": -85, "titleFontSize": 36, "labelExpr": "datum.value==1?'10⁰':datum.value==0.1?'10⁻¹':''", "tickSize": {"condition": {"test": "indexof([0.1,1],datum.value)>=0", "value": -12}, "value": -6}}},
   "y2": {"field": "hi"}}},
 {"data": {"name": "b"}, "transform": [{"filter": "datum.l==1"}], "mark": {"type": "line", "color": "#1f77b4", "strokeWidth": 3.5, "clip": true},
  "encoding": {"x": {"field": "k", "type": "quantitative", "scale": {"type": "log", "domain": [0.01, 10], "nice": false}},
   "y": {"field": "y", "type": "quantitative", "scale": {"type": "log", "domain": [0.05, 1.2], "nice": false}}}}
]},
{"layer": [
 {"data": {"name": "c"}, "transform": [{"filter": "datum.l==1"}], "mark": {"type": "area", "color": "#1f77b4", "opacity": 0.35, "clip": true},
  "encoding": {"x": {"field": "k", "type": "quantitative", "scale": {"type": "log", "domain": [0.01, 10], "nice": false}, "axis": {"values": [0.01,0.02,0.03,0.04,0.05,0.06,0.07,0.08,0.09,0.1,0.2,0.3,0.4,0.5,0.6,0.7,0.8,0.9,1,2,3,4,5,6,7,8,9,10], "title": null, "labels": false, "tickSize": {"condition": {"test": "indexof([0.01,0.1,1,10],datum.value)>=0", "value": -12}, "value": -6}}},
   "y": {"field": "lo", "type": "quantitative", "scale": {"type": "log", "domain": [0.1, 3], "nice": false}, "axis": {"values": [0.1,0.2,0.3,0.4,0.5,0.6,0.7,0.8,0.9,1,2], "title": "k̄ₙₙ,ₙ⁽ˡ⁾(kᵣₑₛ⁽ˡ⁾)", "titleX": -85, "titleFontSize": 34, "labelExpr": "datum.value==1?'10⁰':datum.value==0.1?'10⁻¹':''", "tickSize": {"condition": {"test": "indexof([0.1,1],datum.value)>=0", "value": -12}, "value": -6}}},
   "y2": {"field": "hi"}}},
 {"data": {"name": "c"}, "transform": [{"filter": "datum.l==1"}], "mark": {"type": "line", "color": "#1f77b4", "strokeWidth": 3.5, "clip": true},
  "encoding": {"x": {"field": "k", "type": "quantitative", "scale": {"type": "log", "domain": [0.01, 10], "nice": false}},
   "y": {"field": "y", "type": "quantitative", "scale": {"type": "log", "domain": [0.1, 3], "nice": false}}}}
]},
{"layer": [
 {"data": {"name": "d"}, "transform": [{"filter": "datum.l==1"}], "mark": {"type": "area", "color": "#1f77b4", "opacity": 0.35, "clip": true},
  "encoding": {"x": {"field": "k", "type": "quantitative", "scale": {"type": "log", "domain": [0.01, 10], "nice": false}, "axis": {"values": [0.01,0.02,0.03,0.04,0.05,0.06,0.07,0.08,0.09,0.1,0.2,0.3,0.4,0.5,0.6,0.7,0.8,0.9,1,2,3,4,5,6,7,8,9,10], "title": null, "labels": false, "tickSize": {"condition": {"test": "indexof([0.01,1],datum.value)>=0", "value": -12}, "value": -6}}},
   "y": {"field": "lo", "type": "quantitative", "scale": {"domain": [0.95, 1.3], "nice": false, "zero": false}, "axis": {"values": [1.0,1.1,1.2,1.3], "format": ".1f", "title": "r⁽ˡ⁾(kᵣₑₛ⁽ˡ⁾)", "titleX": -68, "titleFontSize": 38, "tickSize": -12}},
   "y2": {"field": "hi"}}},
 {"data": {"values": [{"ref": 1}]}, "mark": {"type": "rule", "color": "black", "strokeWidth": 2},
  "encoding": {"y": {"field": "ref", "type": "quantitative", "scale": {"domain": [0.95, 1.3], "nice": false, "zero": false}}}},
 {"data": {"name": "d"}, "transform": [{"filter": "datum.l==1"}], "mark": {"type": "line", "color": "#1f77b4", "strokeWidth": 3.5, "clip": true},
  "encoding": {"x": {"field": "k", "type": "quantitative", "scale": {"type": "log", "domain": [0.01, 10], "nice": false}},
   "y": {"field": "y", "type": "quantitative", "scale": {"domain": [0.95, 1.3], "nice": false, "zero": false}}}}
]},
{"layer": [
 {"data": {"name": "es"}, "transform": [{"filter": "datum.l==1"}], "mark": {"type": "rect", "color": "#a0a0a0"},
  "encoding": {"x": {"datum": 0, "type": "quantitative", "scale": {"domain": [0, 40], "nice": false, "zero": false}}, "x2": {"datum": 40},
   "y": {"field": "lo", "type": "quantitative", "scale": {"domain": [0, 1], "nice": false}}, "y2": {"field": "hi"}}},
 {"data": {"name": "es"}, "transform": [{"filter": "datum.l==1"}], "mark": {"type": "rule", "color": "black", "strokeWidth": 3},
  "encoding": {"y": {"field": "mean", "type": "quantitative", "scale": {"domain": [0, 1], "nice": false}}}},
 {"data": {"name": "e"}, "transform": [{"filter": "datum.l==1"}], "mark": {"type": "circle", "size": 140, "color": "#1f77b4", "stroke": "black", "strokeWidth": 1, "opacity": 1, "clip": true},
  "encoding": {"x": {"field": "s", "type": "quantitative", "scale": {"domain": [0, 40], "nice": false, "zero": false}, "axis": {"values": [0,10,20,30,40], "title": null, "labels": false, "tickSize": -12}},
   "y": {"field": "q", "type": "quantitative", "scale": {"domain": [0, 1], "nice": false}, "axis": {"values": [0,0.3,0.6,0.9], "format": ".1f", "title": "Qₑₘₚ", "titleX": -61, "titleFontSize": 46, "tickSize": -12}}}}
]},

{"layer": [
 {"data": {"name": "a"}, "transform": [{"filter": "datum.l==2"}], "mark": {"type": "area", "color": "#2ca02c", "opacity": 0.35, "clip": true},
  "encoding": {"x": {"field": "k", "type": "quantitative", "scale": {"type": "log", "domain": [0.01, 10], "nice": false}, "axis": {"values": [0.01,0.02,0.03,0.04,0.05,0.06,0.07,0.08,0.09,0.1,0.2,0.3,0.4,0.5,0.6,0.7,0.8,0.9,1,2,3,4,5,6,7,8,9,10], "title": null, "labels": false, "tickSize": {"condition": {"test": "indexof([0.01,0.1,1,10],datum.value)>=0", "value": -12}, "value": -6}}},
   "y": {"field": "lo", "type": "quantitative", "scale": {"type": "log", "domain": [0.00195, 1.36], "nice": false}, "axis": {"values": [0.002,0.003,0.004,0.005,0.006,0.007,0.008,0.009,0.01,0.02,0.03,0.04,0.05,0.06,0.07,0.08,0.09,0.1,0.2,0.3,0.4,0.5,0.6,0.7,0.8,0.9,1], "title": "Pc⁽ˡ⁾(kᵣₑₛ⁽ˡ⁾)", "titleX": -85, "titleFontSize": 32, "labelExpr": "datum.value==1?'10⁰':datum.value==0.1?'10⁻¹':datum.value==0.01?'10⁻²':''", "tickSize": {"condition": {"test": "indexof([0.01,0.1,1],datum.value)>=0", "value": -12}, "value": -6}}},
   "y2": {"field": "hi"}}},
 {"data": {"name": "a"}, "transform": [{"filter": "datum.l==2"}], "mark": {"type": "line", "color": "#2ca02c", "strokeWidth": 3.5, "clip": true},
  "encoding": {"x": {"field": "k", "type": "quantitative", "scale": {"type": "log", "domain": [0.01, 10], "nice": false}},
   "y": {"field": "y", "type": "quantitative", "scale": {"type": "log", "domain": [0.00195, 1.36], "nice": false}}}},
 {"data": {"values": [{"t": "l =2"}]}, "mark": {"type": "text", "align": "left", "baseline": "middle", "fontSize": 32, "fontStyle": "italic", "color": "black"},
  "encoding": {"x": {"datum": 0.03, "type": "quantitative", "scale": {"type": "log", "domain": [0.01, 10], "nice": false}},
   "y": {"datum": 0.0075, "type": "quantitative", "scale": {"type": "log", "domain": [0.00195, 1.36], "nice": false}}, "text": {"field": "t"}}}
]},
{"layer": [
 {"data": {"name": "b"}, "transform": [{"filter": "datum.l==2"}], "mark": {"type": "area", "color": "#2ca02c", "opacity": 0.35, "clip": true},
  "encoding": {"x": {"field": "k", "type": "quantitative", "scale": {"type": "log", "domain": [0.01, 10], "nice": false}, "axis": {"values": [0.01,0.02,0.03,0.04,0.05,0.06,0.07,0.08,0.09,0.1,0.2,0.3,0.4,0.5,0.6,0.7,0.8,0.9,1,2,3,4,5,6,7,8,9,10], "title": null, "labels": false, "tickSize": {"condition": {"test": "indexof([0.01,0.1,1,10],datum.value)>=0", "value": -12}, "value": -6}}},
   "y": {"field": "lo", "type": "quantitative", "scale": {"type": "log", "domain": [0.05, 1.2], "nice": false}, "axis": {"values": [0.05,0.06,0.07,0.08,0.09,0.1,0.2,0.3,0.4,0.5,0.6,0.7,0.8,0.9,1], "title": "c̄⁽ˡ⁾(kᵣₑₛ⁽ˡ⁾)", "titleX": -85, "titleFontSize": 36, "labelExpr": "datum.value==1?'10⁰':datum.value==0.1?'10⁻¹':''", "tickSize": {"condition": {"test": "indexof([0.1,1],datum.value)>=0", "value": -12}, "value": -6}}},
   "y2": {"field": "hi"}}},
 {"data": {"name": "b"}, "transform": [{"filter": "datum.l==2"}], "mark": {"type": "line", "color": "#2ca02c", "strokeWidth": 3.5, "clip": true},
  "encoding": {"x": {"field": "k", "type": "quantitative", "scale": {"type": "log", "domain": [0.01, 10], "nice": false}},
   "y": {"field": "y", "type": "quantitative", "scale": {"type": "log", "domain": [0.05, 1.2], "nice": false}}}}
]},
{"layer": [
 {"data": {"name": "c"}, "transform": [{"filter": "datum.l==2"}], "mark": {"type": "area", "color": "#2ca02c", "opacity": 0.35, "clip": true},
  "encoding": {"x": {"field": "k", "type": "quantitative", "scale": {"type": "log", "domain": [0.01, 10], "nice": false}, "axis": {"values": [0.01,0.02,0.03,0.04,0.05,0.06,0.07,0.08,0.09,0.1,0.2,0.3,0.4,0.5,0.6,0.7,0.8,0.9,1,2,3,4,5,6,7,8,9,10], "title": null, "labels": false, "tickSize": {"condition": {"test": "indexof([0.01,0.1,1,10],datum.value)>=0", "value": -12}, "value": -6}}},
   "y": {"field": "lo", "type": "quantitative", "scale": {"type": "log", "domain": [0.1, 3], "nice": false}, "axis": {"values": [0.1,0.2,0.3,0.4,0.5,0.6,0.7,0.8,0.9,1,2], "title": "k̄ₙₙ,ₙ⁽ˡ⁾(kᵣₑₛ⁽ˡ⁾)", "titleX": -85, "titleFontSize": 34, "labelExpr": "datum.value==1?'10⁰':datum.value==0.1?'10⁻¹':''", "tickSize": {"condition": {"test": "indexof([0.1,1],datum.value)>=0", "value": -12}, "value": -6}}},
   "y2": {"field": "hi"}}},
 {"data": {"name": "c"}, "transform": [{"filter": "datum.l==2"}], "mark": {"type": "line", "color": "#2ca02c", "strokeWidth": 3.5, "clip": true},
  "encoding": {"x": {"field": "k", "type": "quantitative", "scale": {"type": "log", "domain": [0.01, 10], "nice": false}},
   "y": {"field": "y", "type": "quantitative", "scale": {"type": "log", "domain": [0.1, 3], "nice": false}}}}
]},
{"layer": [
 {"data": {"name": "d"}, "transform": [{"filter": "datum.l==2"}], "mark": {"type": "area", "color": "#2ca02c", "opacity": 0.35, "clip": true},
  "encoding": {"x": {"field": "k", "type": "quantitative", "scale": {"type": "log", "domain": [0.01, 10], "nice": false}, "axis": {"values": [0.01,0.02,0.03,0.04,0.05,0.06,0.07,0.08,0.09,0.1,0.2,0.3,0.4,0.5,0.6,0.7,0.8,0.9,1,2,3,4,5,6,7,8,9,10], "title": null, "labels": false, "tickSize": {"condition": {"test": "indexof([0.01,1],datum.value)>=0", "value": -12}, "value": -6}}},
   "y": {"field": "lo", "type": "quantitative", "scale": {"domain": [0.95, 1.3], "nice": false, "zero": false}, "axis": {"values": [1.0,1.1,1.2,1.3], "format": ".1f", "title": "r⁽ˡ⁾(kᵣₑₛ⁽ˡ⁾)", "titleX": -68, "titleFontSize": 38, "tickSize": -12}},
   "y2": {"field": "hi"}}},
 {"data": {"values": [{"ref": 1}]}, "mark": {"type": "rule", "color": "black", "strokeWidth": 2},
  "encoding": {"y": {"field": "ref", "type": "quantitative", "scale": {"domain": [0.95, 1.3], "nice": false, "zero": false}}}},
 {"data": {"name": "d"}, "transform": [{"filter": "datum.l==2"}], "mark": {"type": "line", "color": "#2ca02c", "strokeWidth": 3.5, "clip": true},
  "encoding": {"x": {"field": "k", "type": "quantitative", "scale": {"type": "log", "domain": [0.01, 10], "nice": false}},
   "y": {"field": "y", "type": "quantitative", "scale": {"domain": [0.95, 1.3], "nice": false, "zero": false}}}}
]},
{"layer": [
 {"data": {"name": "es"}, "transform": [{"filter": "datum.l==2"}], "mark": {"type": "rect", "color": "#a0a0a0"},
  "encoding": {"x": {"datum": 0, "type": "quantitative", "scale": {"domain": [0, 40], "nice": false, "zero": false}}, "x2": {"datum": 40},
   "y": {"field": "lo", "type": "quantitative", "scale": {"domain": [0, 1], "nice": false}}, "y2": {"field": "hi"}}},
 {"data": {"name": "es"}, "transform": [{"filter": "datum.l==2"}], "mark": {"type": "rule", "color": "black", "strokeWidth": 3},
  "encoding": {"y": {"field": "mean", "type": "quantitative", "scale": {"domain": [0, 1], "nice": false}}}},
 {"data": {"name": "e"}, "transform": [{"filter": "datum.l==2"}], "mark": {"type": "circle", "size": 140, "color": "#2ca02c", "stroke": "black", "strokeWidth": 1, "opacity": 1, "clip": true},
  "encoding": {"x": {"field": "s", "type": "quantitative", "scale": {"domain": [0, 40], "nice": false, "zero": false}, "axis": {"values": [0,10,20,30,40], "title": null, "labels": false, "tickSize": -12}},
   "y": {"field": "q", "type": "quantitative", "scale": {"domain": [0, 1], "nice": false}, "axis": {"values": [0,0.3,0.6,0.9], "format": ".1f", "title": "Qₑₘₚ", "titleX": -61, "titleFontSize": 46, "tickSize": -12}}}}
]},

{"layer": [
 {"data": {"name": "a"}, "transform": [{"filter": "datum.l==3"}], "mark": {"type": "area", "color": "#ff7f0e", "opacity": 0.35, "clip": true},
  "encoding": {"x": {"field": "k", "type": "quantitative", "scale": {"type": "log", "domain": [0.01, 10], "nice": false}, "axis": {"values": [0.01,0.02,0.03,0.04,0.05,0.06,0.07,0.08,0.09,0.1,0.2,0.3,0.4,0.5,0.6,0.7,0.8,0.9,1,2,3,4,5,6,7,8,9,10], "title": null, "labels": false, "tickSize": {"condition": {"test": "indexof([0.01,0.1,1,10],datum.value)>=0", "value": -12}, "value": -6}}},
   "y": {"field": "lo", "type": "quantitative", "scale": {"type": "log", "domain": [0.00044, 1.48], "nice": false}, "axis": {"values": [0.0005,0.0006,0.0007,0.0008,0.0009,0.001,0.002,0.003,0.004,0.005,0.006,0.007,0.008,0.009,0.01,0.02,0.03,0.04,0.05,0.06,0.07,0.08,0.09,0.1,0.2,0.3,0.4,0.5,0.6,0.7,0.8,0.9,1], "title": "Pc⁽ˡ⁾(kᵣₑₛ⁽ˡ⁾)", "titleX": -85, "titleFontSize": 32, "labelExpr": "datum.value==1?'10⁰':datum.value==0.01?'10⁻²':''", "tickSize": {"condition": {"test": "indexof([0.01,1],datum.value)>=0", "value": -12}, "value": -6}}},
   "y2": {"field": "hi"}}},
 {"data": {"name": "a"}, "transform": [{"filter": "datum.l==3"}], "mark": {"type": "line", "color": "#ff7f0e", "strokeWidth": 3.5, "clip": true},
  "encoding": {"x": {"field": "k", "type": "quantitative", "scale": {"type": "log", "domain": [0.01, 10], "nice": false}},
   "y": {"field": "y", "type": "quantitative", "scale": {"type": "log", "domain": [0.00044, 1.48], "nice": false}}}},
 {"data": {"values": [{"t": "l =3"}]}, "mark": {"type": "text", "align": "left", "baseline": "middle", "fontSize": 32, "fontStyle": "italic", "color": "black"},
  "encoding": {"x": {"datum": 0.03, "type": "quantitative", "scale": {"type": "log", "domain": [0.01, 10], "nice": false}},
   "y": {"datum": 0.00234, "type": "quantitative", "scale": {"type": "log", "domain": [0.00044, 1.48], "nice": false}}, "text": {"field": "t"}}}
]},
{"layer": [
 {"data": {"name": "b"}, "transform": [{"filter": "datum.l==3"}], "mark": {"type": "area", "color": "#ff7f0e", "opacity": 0.35, "clip": true},
  "encoding": {"x": {"field": "k", "type": "quantitative", "scale": {"type": "log", "domain": [0.01, 10], "nice": false}, "axis": {"values": [0.01,0.02,0.03,0.04,0.05,0.06,0.07,0.08,0.09,0.1,0.2,0.3,0.4,0.5,0.6,0.7,0.8,0.9,1,2,3,4,5,6,7,8,9,10], "title": null, "labels": false, "tickSize": {"condition": {"test": "indexof([0.01,0.1,1,10],datum.value)>=0", "value": -12}, "value": -6}}},
   "y": {"field": "lo", "type": "quantitative", "scale": {"type": "log", "domain": [0.05, 1.2], "nice": false}, "axis": {"values": [0.05,0.06,0.07,0.08,0.09,0.1,0.2,0.3,0.4,0.5,0.6,0.7,0.8,0.9,1], "title": "c̄⁽ˡ⁾(kᵣₑₛ⁽ˡ⁾)", "titleX": -85, "titleFontSize": 36, "labelExpr": "datum.value==1?'10⁰':datum.value==0.1?'10⁻¹':''", "tickSize": {"condition": {"test": "indexof([0.1,1],datum.value)>=0", "value": -12}, "value": -6}}},
   "y2": {"field": "hi"}}},
 {"data": {"name": "b"}, "transform": [{"filter": "datum.l==3"}], "mark": {"type": "line", "color": "#ff7f0e", "strokeWidth": 3.5, "clip": true},
  "encoding": {"x": {"field": "k", "type": "quantitative", "scale": {"type": "log", "domain": [0.01, 10], "nice": false}},
   "y": {"field": "y", "type": "quantitative", "scale": {"type": "log", "domain": [0.05, 1.2], "nice": false}}}}
]},
{"layer": [
 {"data": {"name": "c"}, "transform": [{"filter": "datum.l==3"}], "mark": {"type": "area", "color": "#ff7f0e", "opacity": 0.35, "clip": true},
  "encoding": {"x": {"field": "k", "type": "quantitative", "scale": {"type": "log", "domain": [0.01, 10], "nice": false}, "axis": {"values": [0.01,0.02,0.03,0.04,0.05,0.06,0.07,0.08,0.09,0.1,0.2,0.3,0.4,0.5,0.6,0.7,0.8,0.9,1,2,3,4,5,6,7,8,9,10], "title": null, "labels": false, "tickSize": {"condition": {"test": "indexof([0.01,0.1,1,10],datum.value)>=0", "value": -12}, "value": -6}}},
   "y": {"field": "lo", "type": "quantitative", "scale": {"type": "log", "domain": [0.1, 3], "nice": false}, "axis": {"values": [0.1,0.2,0.3,0.4,0.5,0.6,0.7,0.8,0.9,1,2], "title": "k̄ₙₙ,ₙ⁽ˡ⁾(kᵣₑₛ⁽ˡ⁾)", "titleX": -85, "titleFontSize": 34, "labelExpr": "datum.value==1?'10⁰':datum.value==0.1?'10⁻¹':''", "tickSize": {"condition": {"test": "indexof([0.1,1],datum.value)>=0", "value": -12}, "value": -6}}},
   "y2": {"field": "hi"}}},
 {"data": {"name": "c"}, "transform": [{"filter": "datum.l==3"}], "mark": {"type": "line", "color": "#ff7f0e", "strokeWidth": 3.5, "clip": true},
  "encoding": {"x": {"field": "k", "type": "quantitative", "scale": {"type": "log", "domain": [0.01, 10], "nice": false}},
   "y": {"field": "y", "type": "quantitative", "scale": {"type": "log", "domain": [0.1, 3], "nice": false}}}}
]},
{"layer": [
 {"data": {"name": "d"}, "transform": [{"filter": "datum.l==3"}], "mark": {"type": "area", "color": "#ff7f0e", "opacity": 0.35, "clip": true},
  "encoding": {"x": {"field": "k", "type": "quantitative", "scale": {"type": "log", "domain": [0.01, 10], "nice": false}, "axis": {"values": [0.01,0.02,0.03,0.04,0.05,0.06,0.07,0.08,0.09,0.1,0.2,0.3,0.4,0.5,0.6,0.7,0.8,0.9,1,2,3,4,5,6,7,8,9,10], "title": null, "labels": false, "tickSize": {"condition": {"test": "indexof([0.01,1],datum.value)>=0", "value": -12}, "value": -6}}},
   "y": {"field": "lo", "type": "quantitative", "scale": {"domain": [0.95, 1.3], "nice": false, "zero": false}, "axis": {"values": [1.0,1.1,1.2,1.3], "format": ".1f", "title": "r⁽ˡ⁾(kᵣₑₛ⁽ˡ⁾)", "titleX": -68, "titleFontSize": 38, "tickSize": -12}},
   "y2": {"field": "hi"}}},
 {"data": {"values": [{"ref": 1}]}, "mark": {"type": "rule", "color": "black", "strokeWidth": 2},
  "encoding": {"y": {"field": "ref", "type": "quantitative", "scale": {"domain": [0.95, 1.3], "nice": false, "zero": false}}}},
 {"data": {"name": "d"}, "transform": [{"filter": "datum.l==3"}], "mark": {"type": "line", "color": "#ff7f0e", "strokeWidth": 3.5, "clip": true},
  "encoding": {"x": {"field": "k", "type": "quantitative", "scale": {"type": "log", "domain": [0.01, 10], "nice": false}},
   "y": {"field": "y", "type": "quantitative", "scale": {"domain": [0.95, 1.3], "nice": false, "zero": false}}}}
]},
{"layer": [
 {"data": {"name": "es"}, "transform": [{"filter": "datum.l==3"}], "mark": {"type": "rect", "color": "#a0a0a0"},
  "encoding": {"x": {"datum": 0, "type": "quantitative", "scale": {"domain": [0, 40], "nice": false, "zero": false}}, "x2": {"datum": 40},
   "y": {"field": "lo", "type": "quantitative", "scale": {"domain": [0, 1], "nice": false}}, "y2": {"field": "hi"}}},
 {"data": {"name": "es"}, "transform": [{"filter": "datum.l==3"}], "mark": {"type": "rule", "color": "black", "strokeWidth": 3},
  "encoding": {"y": {"field": "mean", "type": "quantitative", "scale": {"domain": [0, 1], "nice": false}}}},
 {"data": {"name": "e"}, "transform": [{"filter": "datum.l==3"}], "mark": {"type": "circle", "size": 140, "color": "#ff7f0e", "stroke": "black", "strokeWidth": 1, "opacity": 1, "clip": true},
  "encoding": {"x": {"field": "s", "type": "quantitative", "scale": {"domain": [0, 40], "nice": false, "zero": false}, "axis": {"values": [0,10,20,30,40], "title": null, "labels": false, "tickSize": -12}},
   "y": {"field": "q", "type": "quantitative", "scale": {"domain": [0, 1], "nice": false}, "axis": {"values": [0,0.3,0.6,0.9], "format": ".1f", "title": "Qₑₘₚ", "titleX": -61, "titleFontSize": 46, "tickSize": -12}}}}
]},

{"layer": [
 {"data": {"name": "a"}, "transform": [{"filter": "datum.l==4"}], "mark": {"type": "area", "color": "#4a90e2", "opacity": 0.35, "clip": true},
  "encoding": {"x": {"field": "k", "type": "quantitative", "scale": {"type": "log", "domain": [0.01, 10], "nice": false}, "axis": {"values": [0.01,0.02,0.03,0.04,0.05,0.06,0.07,0.08,0.09,0.1,0.2,0.3,0.4,0.5,0.6,0.7,0.8,0.9,1,2,3,4,5,6,7,8,9,10], "title": "kᵣₑₛ⁽ˡ⁾", "labelExpr": "datum.value==0.01?'10⁻²':datum.value==0.1?'10⁻¹':datum.value==1?'10⁰':datum.value==10?'10¹':''", "tickSize": {"condition": {"test": "indexof([0.01,0.1,1,10],datum.value)>=0", "value": -12}, "value": -6}}},
   "y": {"field": "lo", "type": "quantitative", "scale": {"type": "log", "domain": [0.00169, 1.38], "nice": false}, "axis": {"values": [0.002,0.003,0.004,0.005,0.006,0.007,0.008,0.009,0.01,0.02,0.03,0.04,0.05,0.06,0.07,0.08,0.09,0.1,0.2,0.3,0.4,0.5,0.6,0.7,0.8,0.9,1], "title": "Pc⁽ˡ⁾(kᵣₑₛ⁽ˡ⁾)", "titleX": -85, "titleFontSize": 32, "labelExpr": "datum.value==1?'10⁰':datum.value==0.1?'10⁻¹':datum.value==0.01?'10⁻²':''", "tickSize": {"condition": {"test": "indexof([0.01,0.1,1],datum.value)>=0", "value": -12}, "value": -6}}},
   "y2": {"field": "hi"}}},
 {"data": {"name": "a"}, "transform": [{"filter": "datum.l==4"}], "mark": {"type": "line", "color": "#4a90e2", "strokeWidth": 3.5, "clip": true},
  "encoding": {"x": {"field": "k", "type": "quantitative", "scale": {"type": "log", "domain": [0.01, 10], "nice": false}},
   "y": {"field": "y", "type": "quantitative", "scale": {"type": "log", "domain": [0.00169, 1.38], "nice": false}}}},
 {"data": {"values": [{"t": "l =4"}]}, "mark": {"type": "text", "align": "left", "baseline": "middle", "fontSize": 32, "fontStyle": "italic", "color": "black"},
  "encoding": {"x": {"datum": 0.03, "type": "quantitative", "scale": {"type": "log", "domain": [0.01, 10], "nice": false}},
   "y": {"datum": 0.0067, "type": "quantitative", "scale": {"type": "log", "domain": [0.00169, 1.38], "nice": false}}, "text": {"field": "t"}}}
]},
{"layer": [
 {"data": {"name": "b"}, "transform": [{"filter": "datum.l==4"}], "mark": {"type": "area", "color": "#4a90e2", "opacity": 0.35, "clip": true},
  "encoding": {"x": {"field": "k", "type": "quantitative", "scale": {"type": "log", "domain": [0.01, 10], "nice": false}, "axis": {"values": [0.01,0.02,0.03,0.04,0.05,0.06,0.07,0.08,0.09,0.1,0.2,0.3,0.4,0.5,0.6,0.7,0.8,0.9,1,2,3,4,5,6,7,8,9,10], "title": "kᵣₑₛ⁽ˡ⁾", "labelExpr": "datum.value==0.01?'10⁻²':datum.value==0.1?'10⁻¹':datum.value==1?'10⁰':datum.value==10?'10¹':''", "tickSize": {"condition": {"test": "indexof([0.01,0.1,1,10],datum.value)>=0", "value": -12}, "value": -6}}},
   "y": {"field": "lo", "type": "quantitative", "scale": {"type": "log", "domain": [0.05, 1.2], "nice": false}, "axis": {"values": [0.05,0.06,0.07,0.08,0.09,0.1,0.2,0.3,0.4,0.5,0.6,0.7,0.8,0.9,1], "title": "c̄⁽ˡ⁾(kᵣₑₛ⁽ˡ⁾)", "titleX": -85, "titleFontSize": 36, "labelExpr": "datum.value==1?'10⁰':datum.value==0.1?'10⁻¹':''", "tickSize": {"condition": {"test": "indexof([0.1,1],datum.value)>=0", "value": -12}, "value": -6}}},
   "y2": {"field": "hi"}}},
 {"data": {"name": "b"}, "transform": [{"filter": "datum.l==4"}], "mark": {"type": "line", "color": "#4a90e2", "strokeWidth": 3.5, "clip": true},
  "encoding": {"x": {"field": "k", "type": "quantitative", "scale": {"type": "log", "domain": [0.01, 10], "nice": false}},
   "y": {"field": "y", "type": "quantitative", "scale": {"type": "log", "domain": [0.05, 1.2], "nice": false}}}}
]},
{"layer": [
 {"data": {"name": "c"}, "transform": [{"filter": "datum.l==4"}], "mark": {"type": "area", "color": "#4a90e2", "opacity": 0.35, "clip": true},
  "encoding": {"x": {"field": "k", "type": "quantitative", "scale": {"type": "log", "domain": [0.01, 10], "nice": false}, "axis": {"values": [0.01,0.02,0.03,0.04,0.05,0.06,0.07,0.08,0.09,0.1,0.2,0.3,0.4,0.5,0.6,0.7,0.8,0.9,1,2,3,4,5,6,7,8,9,10], "title": "kᵣₑₛ⁽ˡ⁾", "labelExpr": "datum.value==0.01?'10⁻²':datum.value==0.1?'10⁻¹':datum.value==1?'10⁰':datum.value==10?'10¹':''", "tickSize": {"condition": {"test": "indexof([0.01,0.1,1,10],datum.value)>=0", "value": -12}, "value": -6}}},
   "y": {"field": "lo", "type": "quantitative", "scale": {"type": "log", "domain": [0.1, 3], "nice": false}, "axis": {"values": [0.1,0.2,0.3,0.4,0.5,0.6,0.7,0.8,0.9,1,2], "title": "k̄ₙₙ,ₙ⁽ˡ⁾(kᵣₑₛ⁽ˡ⁾)", "titleX": -85, "titleFontSize": 34, "labelExpr": "datum.value==1?'10⁰':datum.value==0.1?'10⁻¹':''", "tickSize": {"condition": {"test": "indexof([0.1,1],datum.value)>=0", "value": -12}, "value": -6}}},
   "y2": {"field": "hi"}}},
 {"data": {"name": "c"}, "transform": [{"filter": "datum.l==4"}], "mark": {"type": "line", "color": "#4a90e2", "strokeWidth": 3.5, "clip": true},
  "encoding": {"x": {"field": "k", "type": "quantitative", "scale": {"type": "log", "domain": [0.01, 10], "nice": false}},
   "y": {"field": "y", "type": "quantitative", "scale": {"type": "log", "domain": [0.1, 3], "nice": false}}}}
]},
{"layer": [
 {"data": {"name": "d"}, "transform": [{"filter": "datum.l==4"}], "mark": {"type": "area", "color": "#4a90e2", "opacity": 0.35, "clip": true},
  "encoding": {"x": {"field": "k", "type": "quantitative", "scale": {"type": "log", "domain": [0.01, 10], "nice": false}, "axis": {"values": [0.01,0.02,0.03,0.04,0.05,0.06,0.07,0.08,0.09,0.1,0.2,0.3,0.4,0.5,0.6,0.7,0.8,0.9,1,2,3,4,5,6,7,8,9,10], "title": "kᵣₑₛ⁽ˡ⁾", "labelExpr": "datum.value==0.01?'10⁻²':datum.value==1?'10⁰':''", "tickSize": {"condition": {"test": "indexof([0.01,1],datum.value)>=0", "value": -12}, "value": -6}}},
   "y": {"field": "lo", "type": "quantitative", "scale": {"domain": [0.95, 1.3], "nice": false, "zero": false}, "axis": {"values": [1.0,1.1,1.2,1.3], "format": ".1f", "title": "r⁽ˡ⁾(kᵣₑₛ⁽ˡ⁾)", "titleX": -68, "titleFontSize": 38, "tickSize": -12}},
   "y2": {"field": "hi"}}},
 {"data": {"values": [{"ref": 1}]}, "mark": {"type": "rule", "color": "black", "strokeWidth": 2},
  "encoding": {"y": {"field": "ref", "type": "quantitative", "scale": {"domain": [0.95, 1.3], "nice": false, "zero": false}}}},
 {"data": {"name": "d"}, "transform": [{"filter": "datum.l==4"}], "mark": {"type": "line", "color": "#4a90e2", "strokeWidth": 3.5, "clip": true},
  "encoding": {"x": {"field": "k", "type": "quantitative", "scale": {"type": "log", "domain": [0.01, 10], "nice": false}},
   "y": {"field": "y", "type": "quantitative", "scale": {"domain": [0.95, 1.3], "nice": false, "zero": false}}}}
]},
{"layer": [
 {"data": {"name": "es"}, "transform": [{"filter": "datum.l==4"}], "mark": {"type": "rect", "color": "#a0a0a0"},
  "encoding": {"x": {"datum": 0, "type": "quantitative", "scale": {"domain": [0, 40], "nice": false, "zero": false}}, "x2": {"datum": 40},
   "y": {"field": "lo", "type": "quantitative", "scale": {"domain": [0, 1], "nice": false}}, "y2": {"field": "hi"}}},
 {"data": {"name": "es"}, "transform": [{"filter": "datum.l==4"}], "mark": {"type": "rule", "color": "black", "strokeWidth": 3},
  "encoding": {"y": {"field": "mean", "type": "quantitative", "scale": {"domain": [0, 1], "nice": false}}}},
 {"data": {"name": "e"}, "transform": [{"filter": "datum.l==4"}], "mark": {"type": "circle", "size": 140, "color": "#4a90e2", "stroke": "black", "strokeWidth": 1, "opacity": 1, "clip": true},
  "encoding": {"x": {"field": "s", "type": "quantitative", "scale": {"domain": [0, 40], "nice": false, "zero": false}, "axis": {"values": [0,10,20,30,40], "format": "d", "title": "subject", "titleFontStyle": "normal", "tickSize": -12}},
   "y": {"field": "q", "type": "quantitative", "scale": {"domain": [0, 1], "nice": false}, "axis": {"values": [0,0.3,0.6,0.9], "format": ".1f", "title": "Qₑₘₚ", "titleX": -61, "titleFontSize": 46, "tickSize": -12}}}}
]}
]
}
